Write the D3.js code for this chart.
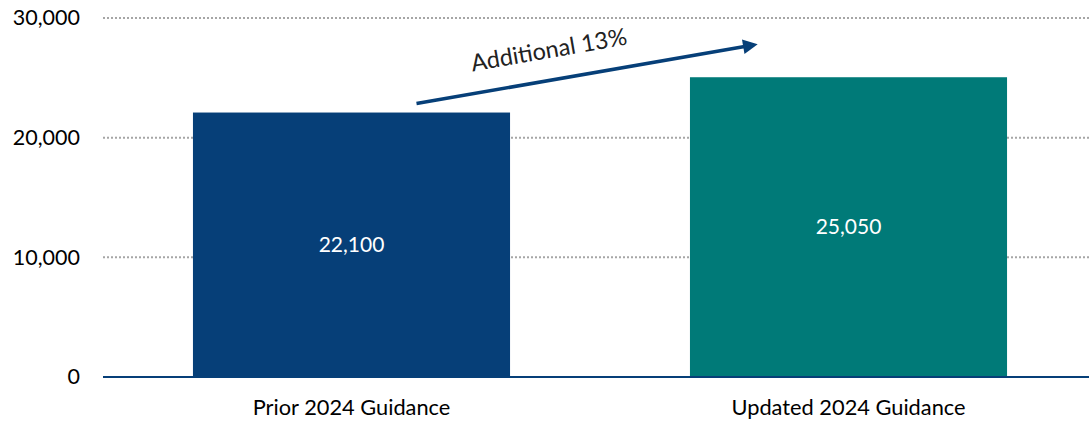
<!DOCTYPE html>
<html>
<head>
<meta charset="utf-8">
<script src="https://cdn.jsdelivr.net/npm/d3@7"></script>
<style>
  body { margin: 0; background: #fff; }
  text { font-family: Lato, "Open Sans", sans-serif; }
</style>
</head>
<body>
<div id="chart"></div>
<script>
// Data
const categories = ["Prior 2024 Guidance", "Updated 2024 Guidance"];
const values = [22100, 25050];
const barColors = ["#063F78", "#007A78"];
const yTicks = [0, 10000, 20000, 30000];
const arrowLabel = "Additional 13%";

const width = 1089, height = 423;
const margin = { top: 18, right: -8, bottom: 46, left: 103 };

const svg = d3.select("#chart").append("svg").attr("width", width).attr("height", height);

const x = d3.scaleBand().domain(categories)
    .range([margin.left, width - margin.right])
    .paddingInner(0.362).paddingOuter(0.181);
const y = d3.scaleLinear().domain([0, 30000]).range([height - margin.bottom, margin.top]);

// Gridlines
svg.append("g").selectAll("line").data(yTicks.filter(d => d > 0)).enter().append("line")
    .attr("x1", margin.left).attr("x2", width)
    .attr("y1", d => y(d)).attr("y2", d => y(d))
    .attr("stroke", "#A6A6A6").attr("stroke-width", 2).attr("stroke-dasharray", "2,2");

// Y axis labels
const yAxis = svg.append("g").attr("transform", `translate(${margin.left},0)`)
    .call(d3.axisLeft(y).tickValues(yTicks).tickFormat(d3.format(",")).tickSize(0).tickPadding(23));
yAxis.select(".domain").remove();
yAxis.selectAll("text").style("font-size", "21.5px").attr("fill", "#000");

// Bars
svg.selectAll("rect.bar").data(values).enter().append("rect").attr("class", "bar")
    .attr("x", (d, i) => x(categories[i]))
    .attr("y", d => y(d))
    .attr("width", x.bandwidth())
    .attr("height", d => y(0) - y(d))
    .attr("fill", (d, i) => barColors[i]);

// Value labels
svg.selectAll("text.val").data(values).enter().append("text").attr("class", "val")
    .attr("x", (d, i) => x(categories[i]) + x.bandwidth() / 2)
    .attr("y", d => (y(d) + y(0)) / 2)
    .attr("dy", "0.35em")
    .attr("text-anchor", "middle")
    .attr("fill", "#fff")
    .style("font-size", "21px")
    .text(d => d3.format(",")(d));

// X axis line and labels
const xAxis = svg.append("g").attr("transform", `translate(0,${y(0)})`)
    .call(d3.axisBottom(x).tickSize(0).tickPadding(23));
xAxis.select(".domain").attr("stroke", "#063F78").attr("stroke-width", 2)
    .attr("d", `M${margin.left},0H${width}`);
xAxis.selectAll("text").style("font-size", "21.8px").attr("fill", "#000");

// Growth arrow
const defs = svg.append("defs");
defs.append("marker").attr("id", "head")
    .attr("viewBox", "0 0 10 10").attr("refX", 2).attr("refY", 5)
    .attr("markerWidth", 5).attr("markerHeight", 4.2).attr("orient", "auto")
    .append("path").attr("d", "M0,0L10,5L0,10Z").attr("fill", "#063F78");

const x0 = x(categories[0]) + x.bandwidth() * 0.705, y0 = y(values[0]) - 9;
const x1 = x(categories[1]) + x.bandwidth() * 0.215, y1 = y(values[1]) - 33;
svg.append("line")
    .attr("x1", x0).attr("y1", y0).attr("x2", x1 - 12).attr("y2", y1 + 2)
    .attr("stroke", "#063F78").attr("stroke-width", 3.5)
    .attr("marker-end", "url(#head)");

const angle = Math.atan2(y1 - y0, x1 - x0) * 180 / Math.PI;
svg.append("text")
    .attr("transform", `translate(${(x0 + x1) / 2 - 37},${(y0 + y1) / 2 - 16}) rotate(${angle})`)
    .attr("text-anchor", "middle")
    .attr("fill", "#222")
    .style("font-size", "23.5px")
    .text(arrowLabel);
</script>
</body>
</html>
